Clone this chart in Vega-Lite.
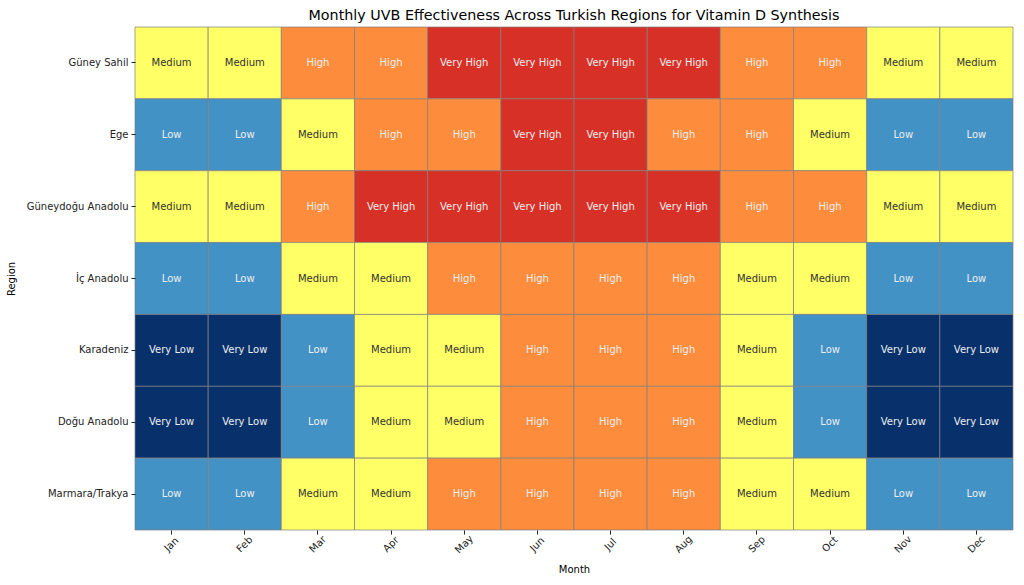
{
  "$schema": "https://vega.github.io/schema/vega-lite/v6.json",
  "width": 878,
  "height": 503,
  "autosize": "none",
  "padding": {"left": 135, "top": 27, "right": 11, "bottom": 55},
  "background": "white",
  "title": {"text": "Monthly UVB Effectiveness Across Turkish Regions for Vitamin D Synthesis", "font": "DejaVu Sans", "fontSize": 14.3, "fontWeight": "normal", "color": "#000", "anchor": "middle", "offset": 3},
  "config": {"view": {"stroke": null}, "font": "DejaVu Sans"},
  "data": {"values": [
    {"region":"Güney Sahil","month":"Jan","level":"Medium"},{"region":"Güney Sahil","month":"Feb","level":"Medium"},{"region":"Güney Sahil","month":"Mar","level":"High"},{"region":"Güney Sahil","month":"Apr","level":"High"},{"region":"Güney Sahil","month":"May","level":"Very High"},{"region":"Güney Sahil","month":"Jun","level":"Very High"},{"region":"Güney Sahil","month":"Jul","level":"Very High"},{"region":"Güney Sahil","month":"Aug","level":"Very High"},{"region":"Güney Sahil","month":"Sep","level":"High"},{"region":"Güney Sahil","month":"Oct","level":"High"},{"region":"Güney Sahil","month":"Nov","level":"Medium"},{"region":"Güney Sahil","month":"Dec","level":"Medium"},
    {"region":"Ege","month":"Jan","level":"Low"},{"region":"Ege","month":"Feb","level":"Low"},{"region":"Ege","month":"Mar","level":"Medium"},{"region":"Ege","month":"Apr","level":"High"},{"region":"Ege","month":"May","level":"High"},{"region":"Ege","month":"Jun","level":"Very High"},{"region":"Ege","month":"Jul","level":"Very High"},{"region":"Ege","month":"Aug","level":"High"},{"region":"Ege","month":"Sep","level":"High"},{"region":"Ege","month":"Oct","level":"Medium"},{"region":"Ege","month":"Nov","level":"Low"},{"region":"Ege","month":"Dec","level":"Low"},
    {"region":"Güneydoğu Anadolu","month":"Jan","level":"Medium"},{"region":"Güneydoğu Anadolu","month":"Feb","level":"Medium"},{"region":"Güneydoğu Anadolu","month":"Mar","level":"High"},{"region":"Güneydoğu Anadolu","month":"Apr","level":"Very High"},{"region":"Güneydoğu Anadolu","month":"May","level":"Very High"},{"region":"Güneydoğu Anadolu","month":"Jun","level":"Very High"},{"region":"Güneydoğu Anadolu","month":"Jul","level":"Very High"},{"region":"Güneydoğu Anadolu","month":"Aug","level":"Very High"},{"region":"Güneydoğu Anadolu","month":"Sep","level":"High"},{"region":"Güneydoğu Anadolu","month":"Oct","level":"High"},{"region":"Güneydoğu Anadolu","month":"Nov","level":"Medium"},{"region":"Güneydoğu Anadolu","month":"Dec","level":"Medium"},
    {"region":"İç Anadolu","month":"Jan","level":"Low"},{"region":"İç Anadolu","month":"Feb","level":"Low"},{"region":"İç Anadolu","month":"Mar","level":"Medium"},{"region":"İç Anadolu","month":"Apr","level":"Medium"},{"region":"İç Anadolu","month":"May","level":"High"},{"region":"İç Anadolu","month":"Jun","level":"High"},{"region":"İç Anadolu","month":"Jul","level":"High"},{"region":"İç Anadolu","month":"Aug","level":"High"},{"region":"İç Anadolu","month":"Sep","level":"Medium"},{"region":"İç Anadolu","month":"Oct","level":"Medium"},{"region":"İç Anadolu","month":"Nov","level":"Low"},{"region":"İç Anadolu","month":"Dec","level":"Low"},
    {"region":"Karadeniz","month":"Jan","level":"Very Low"},{"region":"Karadeniz","month":"Feb","level":"Very Low"},{"region":"Karadeniz","month":"Mar","level":"Low"},{"region":"Karadeniz","month":"Apr","level":"Medium"},{"region":"Karadeniz","month":"May","level":"Medium"},{"region":"Karadeniz","month":"Jun","level":"High"},{"region":"Karadeniz","month":"Jul","level":"High"},{"region":"Karadeniz","month":"Aug","level":"High"},{"region":"Karadeniz","month":"Sep","level":"Medium"},{"region":"Karadeniz","month":"Oct","level":"Low"},{"region":"Karadeniz","month":"Nov","level":"Very Low"},{"region":"Karadeniz","month":"Dec","level":"Very Low"},
    {"region":"Doğu Anadolu","month":"Jan","level":"Very Low"},{"region":"Doğu Anadolu","month":"Feb","level":"Very Low"},{"region":"Doğu Anadolu","month":"Mar","level":"Low"},{"region":"Doğu Anadolu","month":"Apr","level":"Medium"},{"region":"Doğu Anadolu","month":"May","level":"Medium"},{"region":"Doğu Anadolu","month":"Jun","level":"High"},{"region":"Doğu Anadolu","month":"Jul","level":"High"},{"region":"Doğu Anadolu","month":"Aug","level":"High"},{"region":"Doğu Anadolu","month":"Sep","level":"Medium"},{"region":"Doğu Anadolu","month":"Oct","level":"Low"},{"region":"Doğu Anadolu","month":"Nov","level":"Very Low"},{"region":"Doğu Anadolu","month":"Dec","level":"Very Low"},
    {"region":"Marmara/Trakya","month":"Jan","level":"Low"},{"region":"Marmara/Trakya","month":"Feb","level":"Low"},{"region":"Marmara/Trakya","month":"Mar","level":"Medium"},{"region":"Marmara/Trakya","month":"Apr","level":"Medium"},{"region":"Marmara/Trakya","month":"May","level":"High"},{"region":"Marmara/Trakya","month":"Jun","level":"High"},{"region":"Marmara/Trakya","month":"Jul","level":"High"},{"region":"Marmara/Trakya","month":"Aug","level":"High"},{"region":"Marmara/Trakya","month":"Sep","level":"Medium"},{"region":"Marmara/Trakya","month":"Oct","level":"Medium"},{"region":"Marmara/Trakya","month":"Nov","level":"Low"},{"region":"Marmara/Trakya","month":"Dec","level":"Low"}
  ]},
  "encoding": {
    "x": {"field": "month", "type": "nominal", "sort": ["Jan","Feb","Mar","Apr","May","Jun","Jul","Aug","Sep","Oct","Nov","Dec"],
      "scale": {"paddingInner": 0, "paddingOuter": 0},
      "axis": {"title": "Month", "titleFont": "DejaVu Sans", "titleFontSize": 10, "titleFontWeight": "normal", "titleColor": "#000", "titlePadding": 10,
        "labelAngle": -45, "labelAlign": "center", "labelBaseline": "middle", "labelPadding": 10, "labelFontSize": 10, "labelColor": "#222", "labelFont": "DejaVu Sans",
        "tickSize": 4, "tickColor": "#222", "domain": false, "grid": false}},
    "y": {"field": "region", "type": "nominal", "sort": ["Güney Sahil","Ege","Güneydoğu Anadolu","İç Anadolu","Karadeniz","Doğu Anadolu","Marmara/Trakya"],
      "scale": {"paddingInner": 0, "paddingOuter": 0},
      "axis": {"title": "Region", "titleFont": "DejaVu Sans", "titleFontSize": 10, "titleFontWeight": "normal", "titleColor": "#000", "titlePadding": 10,
        "labelFontSize": 10, "labelColor": "#222", "labelFont": "DejaVu Sans", "labelPadding": 3,
        "tickSize": 4, "tickColor": "#222", "domain": false, "grid": false}}
  },
  "layer": [
    {"mark": {"type": "rect", "stroke": "#808080", "strokeWidth": 0.7},
     "encoding": {"color": {"field": "level", "type": "nominal", "legend": null,
       "scale": {"domain": ["Very Low","Low","Medium","High","Very High"], "range": ["#08306b","#4292c6","#ffff66","#fd8d3c","#d73027"]}}}},
    {"mark": {"type": "text", "font": "DejaVu Sans", "fontSize": 10},
     "encoding": {"text": {"field": "level"},
       "color": {"condition": {"test": "datum.level === 'Medium'", "value": "#333333"}, "value": "#eeeeee"}}}
  ]
}
